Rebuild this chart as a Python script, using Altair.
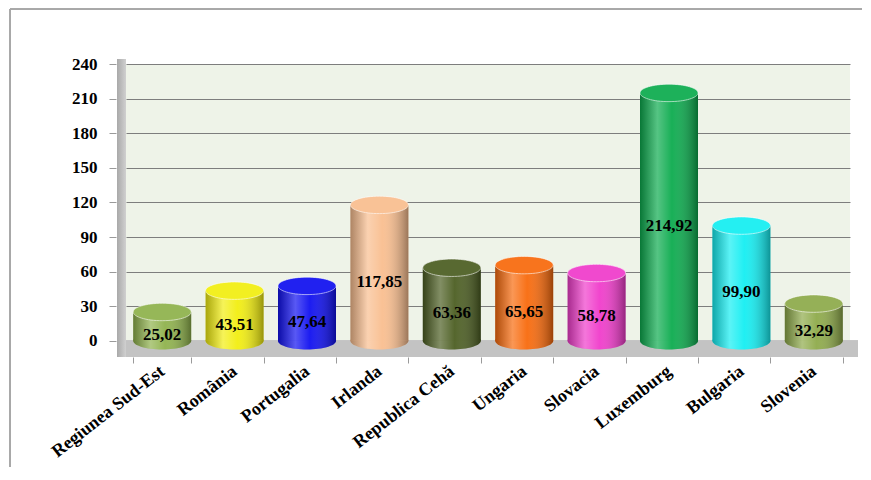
import altair as alt
import pandas as pd

countries = ["Regiunea Sud-Est", "România", "Portugalia", "Irlanda", "Republica Cehă",
             "Ungaria", "Slovacia", "Luxemburg", "Bulgaria", "Slovenia"]
values = [25.02, 43.51, 47.64, 117.85, 63.36, 65.65, 58.78, 214.92, 99.90, 32.29]
labels = ["25,02", "43,51", "47,64", "117,85", "63,36", "65,65", "58,78", "214,92", "99,90", "32,29"]
colors = ["#8FB24C", "#F2EE10", "#1010F0", "#F9BE8F", "#4C5E22",
          "#F86A0C", "#F03CCB", "#0CAB4E", "#14EEF2", "#8EAA4A"]
y_ticks = [0, 30, 60, 90, 120, 150, 180, 210, 240]

df = pd.DataFrame({"country": countries, "value": values, "label": labels,
                   "half": [v / 2 for v in values], "zero": [0] * len(values)})

FONT = "Liberation Serif"
W, H = 724, 293
BAR_W = 58
ELLIPSE = ("M -1 0 C -1 -0.1657 -0.5523 -0.3 0 -0.3 C 0.5523 -0.3 1 -0.1657 1 0 "
           "C 1 0.1657 0.5523 0.3 0 0.3 C -0.5523 0.3 -1 0.1657 -1 0 Z")

xscale = alt.Scale(domain=countries, paddingInner=0.2, paddingOuter=0.1)
yscale = alt.Scale(domain=[-14, 240], nice=False, zero=False)
cscale = alt.Scale(domain=countries, range=colors)

x_enc = alt.X("country:N", sort=None, scale=xscale, title=None,
              axis=alt.Axis(labelAngle=-38, labelAlign="right", labelBaseline="middle",
                            labelFont=FONT, labelFontSize=18, labelFontWeight="bold",
                            labelColor="black", labelPadding=6, tickBand="extent",
                            tickColor="#9a9a9a", tickSize=6, domain=False, labelLimit=300,
                            labelOverlap=False))
y_axis = alt.Axis(values=y_ticks, labelFont=FONT, labelFontSize=17, labelFontWeight="bold",
                  labelColor="black", labelPadding=12, tickColor="#9a9a9a", tickSize=7,
                  domain=False, offset=10, grid=True, gridColor="#7d7d7d", gridWidth=1,
                  title=None, labelOverlap=False)


def Y(field):
    return alt.Y(field, scale=yscale, axis=y_axis)


shade = alt.Gradient(gradient="linear", x1=0, x2=1, y1=0, y2=0, stops=[
    alt.GradientStop(offset=0, color="rgba(0,0,0,0.30)"),
    alt.GradientStop(offset=0.3, color="rgba(255,255,255,0.30)"),
    alt.GradientStop(offset=0.55, color="rgba(255,255,255,0.05)"),
    alt.GradientStop(offset=1, color="rgba(0,0,0,0.38)"),
])
wall_shade = alt.Gradient(gradient="linear", x1=0, x2=1, y1=0, y2=0, stops=[
    alt.GradientStop(offset=0, color="#a9a9a9"),
    alt.GradientStop(offset=1, color="#d0d0d0"),
])

base = alt.Chart(df)

floor = base.mark_rect(color="#c3c3c3").encode(
    x=alt.value(-6), x2=alt.value(W + 8),
    y=alt.datum(0, scale=yscale, axis=y_axis), y2=alt.datum(-14))
wall = base.mark_rect(fill=wall_shade).encode(
    x=alt.value(-9), x2=alt.value(0),
    y=alt.datum(244, scale=yscale, axis=y_axis), y2=alt.datum(-14))

bottom = base.mark_point(shape=ELLIPSE, size=BAR_W * BAR_W, filled=True, opacity=1,
                         strokeWidth=0).encode(
    x=x_enc, y=Y("zero:Q"),
    color=alt.Color("country:N", scale=cscale, legend=None))
bottom_shade = base.mark_point(shape=ELLIPSE, size=BAR_W * BAR_W, filled=True, opacity=1,
                               strokeWidth=0, fill=shade).encode(
    x=x_enc, y=Y("zero:Q"))

bars = base.mark_bar(width=BAR_W).encode(
    x=x_enc, y=Y("value:Q"), y2="zero:Q",
    color=alt.Color("country:N", scale=cscale, legend=None))
bars_shade = base.mark_bar(width=BAR_W, fill=shade).encode(
    x=x_enc, y=Y("value:Q"), y2="zero:Q")

cap = base.mark_point(shape=ELLIPSE, size=BAR_W * BAR_W, filled=True, opacity=1,
                      strokeWidth=0).encode(
    x=x_enc, y=Y("value:Q"),
    color=alt.Color("country:N", scale=cscale, legend=None))
cap_hi = base.mark_point(shape=ELLIPSE, size=BAR_W * BAR_W, filled=False, opacity=0.6,
                         stroke="#ffffff", strokeWidth=1, fill="rgba(255,255,255,0.12)").encode(
    x=x_enc, y=Y("value:Q"))

text = base.mark_text(font=FONT, fontSize=17, fontWeight="bold", color="black", dy=9).encode(
    x=x_enc, y=Y("half:Q"), text="label:N")

frame_left = base.mark_rule(color="#a8a8a8", strokeWidth=1).encode(
    x=alt.value(-116), y=alt.value(-55), y2=alt.value(500))
frame_top = base.mark_rule(color="#a8a8a8", strokeWidth=1).encode(
    x=alt.value(-116), x2=alt.value(W + 60), y=alt.value(-55))

chart = alt.layer(floor, wall, bottom, bottom_shade, bars, bars_shade, cap, cap_hi, text,
                  frame_left, frame_top).properties(
    width=W, height=H,
    autosize=alt.AutoSizeParams(type="none"),
    padding={"left": 118, "top": 56, "right": 12, "bottom": 110},
    background="white",
).configure_view(fill="#EEF3E8", stroke=None)

chart.save("out.html", embed_options={"renderer": "svg", "actions": False})
